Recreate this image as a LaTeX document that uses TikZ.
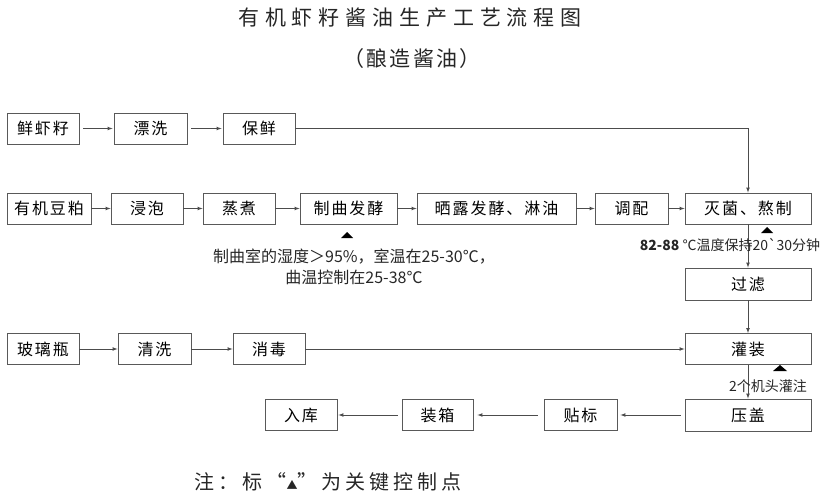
\documentclass[tikz,border=0pt]{standalone}
\usepackage{fontspec}
\setmainfont{Noto Sans CJK SC}
\begin{document}
\begin{tikzpicture}[x=1pt,y=-1pt,
  box/.style={draw=black!65,line width=0.9pt,minimum height=31pt,inner sep=0pt,
    font=\fontsize{16}{18}\selectfont\addfontfeature{LetterSpace=12}},
  flow/.style={->,>=latex,draw=black!70,line width=0.7pt},
  remark/.style={inner sep=0pt,align=center,text=black!85}]
\useasboundingbox (0,0) rectangle (828,500);
% titles
\node[remark,font=\fontsize{21}{24}\selectfont\addfontfeature{LetterSpace=28}] (title) at (410,18) {有机虾籽酱油生产工艺流程图};
\node[remark,font=\fontsize{21}{24}\selectfont\addfontfeature{LetterSpace=10}] (subtitle) at (412,59) {（酿造酱油）};
% shrimp roe line
\node[box,minimum width=72pt] (roe) at (43,128.5) {鲜虾籽};
\node[box,minimum width=73pt] (rinse) at (150.5,128.5) {漂洗};
\node[box,minimum width=72pt] (fresh) at (259,128.5) {保鲜};
% soybean line
\node[box,minimum width=84pt] (bean) at (49,208.5) {有机豆粕};
\node[box,minimum width=72pt] (soak) at (147,208.5) {浸泡};
\node[box,minimum width=72pt] (steam) at (239,208.5) {蒸煮};
\node[box,minimum width=97pt] (koji) at (348.5,208.5) {制曲发酵};
\node[box,minimum width=159pt] (sun) at (496.5,208.5) {晒露发酵、淋油};
\node[box,minimum width=73pt] (blend) at (631.5,208.5) {调配};
\node[box,minimum width=126pt] (boil) at (748,208.5) {灭菌、熬制};
\node[box,minimum width=126pt,minimum height=32pt] (filter) at (748,284) {过滤};
% bottle line
\node[box,minimum width=72pt] (bottle) at (43,349) {玻璃瓶};
\node[box,minimum width=73pt] (wash) at (154.5,349) {清洗};
\node[box,minimum width=72pt] (disinf) at (269,349) {消毒};
\node[box,minimum width=126pt] (fill) at (748,349) {灌装};
% packing line
\node[box,minimum width=126pt,minimum height=32pt] (cap) at (748,415) {压盖};
\node[box,minimum width=73pt] (label) at (580.5,415) {贴标};
\node[box,minimum width=71pt] (pack) at (437.5,415) {装箱};
\node[box,minimum width=72pt] (store) at (301,415) {入库};
% arrows
\draw[flow,shorten <=4pt,shorten >=1pt] (roe) -- (rinse);
\draw[flow,shorten <=4pt,shorten >=1pt] (rinse) -- (fresh);
\draw[flow] (fresh.east) -| (boil.north);
\draw[flow] (bean) -- (soak);
\draw[flow] (soak) -- (steam);
\draw[flow] (steam) -- (koji);
\draw[flow] (koji) -- (sun);
\draw[flow] (sun) -- (blend);
\draw[flow] (blend) -- (boil);
\draw[flow] (boil) -- (filter);
\draw[flow] (filter) -- (fill);
\draw[flow] (fill) -- (cap);
\draw[flow] (bottle) -- (wash);
\draw[flow] (wash) -- (disinf);
\draw[flow] (disinf) -- (fill);
\draw[flow,shorten <=4pt,shorten >=3pt] (cap) -- (label);
\draw[flow,shorten <=6pt,shorten >=4pt] (label) -- (pack);
\draw[flow,shorten <=4pt,shorten >=1pt] (pack) -- (store);
% key control points
\fill (347,232) -- (353,238) -- (341,238) -- cycle;
\fill (767,227) -- (773,233) -- (761,233) -- cycle;
\fill (780,365) -- (787,371) -- (773,371) -- cycle;
\node[remark,font=\fontsize{16}{21}\selectfont] (kojinote) at (354,267) {制曲室的湿度＞95\%，室温在25-30℃，\\曲温控制在25-38℃};
\node[remark,font=\fontsize{14}{16}\selectfont] (boilnote) at (730,245) {{\bfseries 82-88} ℃温度保持20\textasciigrave 30分钟};
\node[remark,font=\fontsize{14}{16}\selectfont] (fillnote) at (768,386) {2个机头灌注};
\node[remark,font=\fontsize{20}{22}\selectfont\addfontfeature{LetterSpace=20}] (legend) at (328,482) {注：标“{\fontsize{11}{11}\selectfont ▲}”为关键控制点};
\end{tikzpicture}
\end{document}
